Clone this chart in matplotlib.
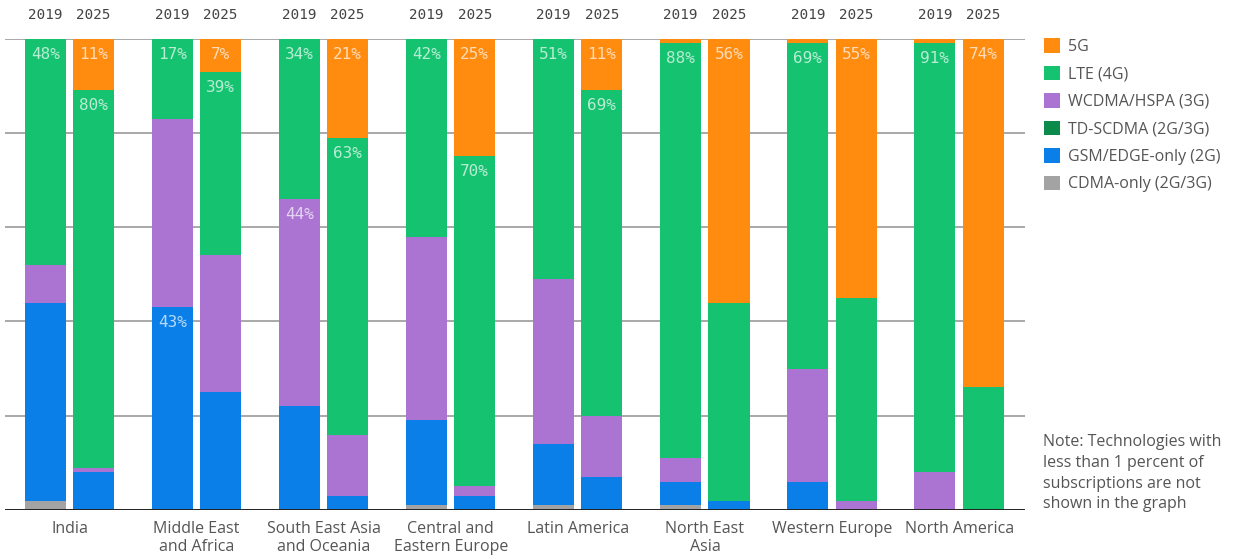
import matplotlib
matplotlib.use("Agg")
from matplotlib import pyplot as plt
from matplotlib.patches import Patch
import numpy as np

"""
Mobile subscriptions by region and technology, 2019 vs 2025
"""

regions = ["India", "Middle East\nand Africa", "South East Asia\nand Oceania",
           "Central and\nEastern Europe", "Latin America", "North East\nAsia",
           "Western Europe", "North America"]
years = ["2019", "2025"]
techs = ["5G", "LTE (4G)", "WCDMA/HSPA (3G)", "TD-SCDMA (2G/3G)",
         "GSM/EDGE-only (2G)", "CDMA-only (2G/3G)"]

# shares in percent, stacked from the bottom
cdma_2019 = [2, 0, 0, 1, 1, 1, 0, 0]
gsm_2019 = [42, 43, 22, 18, 13, 5, 6, 0]
td_2019 = [0, 0, 0, 0, 0, 0, 0, 0]
wcdma_2019 = [8, 40, 44, 39, 35, 5, 24, 8]
lte_2019 = [48, 17, 34, 42, 51, 88, 69, 91]
g5_2019 = [0, 0, 0, 0, 0, 1, 1, 1]

cdma_2025 = [0, 0, 0, 0, 0, 0, 0, 0]
gsm_2025 = [8, 25, 3, 3, 7, 2, 0, 0]
td_2025 = [0, 0, 0, 0, 0, 0, 0, 0]
wcdma_2025 = [1, 29, 13, 2, 13, 0, 2, 0]
lte_2025 = [80, 39, 63, 70, 69, 42, 43, 26]
g5_2025 = [11, 7, 21, 25, 11, 56, 55, 74]

# which segments get a percentage label: (year, tech, region indices)
labelled = [
    ("2019", "LTE (4G)", [0, 1, 2, 3, 4, 5, 6, 7]),
    ("2019", "GSM/EDGE-only (2G)", [1]),
    ("2019", "WCDMA/HSPA (3G)", [2]),
    ("2025", "5G", [0, 1, 2, 3, 4, 5, 6, 7]),
    ("2025", "LTE (4G)", [0, 1, 2, 3, 4]),
]

colors = {
    "5G": "#ff8b0f",
    "LTE (4G)": "#14c270",
    "WCDMA/HSPA (3G)": "#ab74d2",
    "TD-SCDMA (2G/3G)": "#0b8a4c",
    "GSM/EDGE-only (2G)": "#0b7fe8",
    "CDMA-only (2G/3G)": "#a3a3a3",
}

stack_order = ["CDMA-only (2G/3G)", "GSM/EDGE-only (2G)", "TD-SCDMA (2G/3G)",
               "WCDMA/HSPA (3G)", "LTE (4G)", "5G"]
data = {
    "2019": {"CDMA-only (2G/3G)": cdma_2019, "GSM/EDGE-only (2G)": gsm_2019,
             "TD-SCDMA (2G/3G)": td_2019, "WCDMA/HSPA (3G)": wcdma_2019,
             "LTE (4G)": lte_2019, "5G": g5_2019},
    "2025": {"CDMA-only (2G/3G)": cdma_2025, "GSM/EDGE-only (2G)": gsm_2025,
             "TD-SCDMA (2G/3G)": td_2025, "WCDMA/HSPA (3G)": wcdma_2025,
             "LTE (4G)": lte_2025, "5G": g5_2025},
}


def plot_chart():
    fig = plt.figure(figsize=(12.33, 5.6), dpi=100)
    ax = fig.add_axes([5 / 1233, 1 - 510 / 560, 1020 / 1233, 471.5 / 560])

    x = np.arange(len(regions))
    width = 0.323
    offsets = {"2019": -0.191, "2025": 0.189}

    tops = {}
    for year in years:
        bottom = np.zeros(len(regions))
        for tech in stack_order:
            vals = np.array(data[year][tech], dtype=float)
            ax.bar(x + offsets[year], vals, width, bottom=bottom,
                   color=colors[tech], linewidth=0, zorder=2)
            tops[(year, tech)] = bottom + vals
            bottom = bottom + vals

    for year, tech, idx in labelled:
        for i in idx:
            ax.text(x[i] + offsets[year], tops[(year, tech)][i] - 3.3,
                    "%d%%" % data[year][tech][i], ha="center", va="center",
                    fontsize=11.5, family="DejaVu Sans Mono",
                    color="white", alpha=0.7, zorder=3)

    # year labels above every bar
    for year in years:
        for xi in x:
            ax.text(xi + offsets[year], 1.05, year, ha="center", va="center",
                    fontsize=10.3, family="DejaVu Sans Mono", color="#444444",
                    transform=ax.get_xaxis_transform())

    ax.set_xlim(-0.507, 7.518)
    ax.set_ylim(0, 100)
    for yv in [20, 40, 60, 80, 100]:
        ax.axhline(yv, color="#a8a8a8", linewidth=1.4, zorder=1)
    ax.axhline(0, color="#222222", linewidth=1.4, zorder=4)

    for side in ["top", "right", "left", "bottom"]:
        ax.spines[side].set_visible(False)
    ax.set_yticks([])
    ax.set_xticks(x)
    ax.set_xticklabels(regions, fontsize=11.5, family="Open Sans",
                       color="#555555", linespacing=1.15)
    ax.tick_params(axis="x", length=0, pad=8)

    handles = [Patch(facecolor=colors[t], edgecolor="none") for t in techs]
    fig.legend(handles, techs, loc="upper left",
               bbox_to_anchor=(1030 / 1233, 1 - 24 / 560), frameon=False,
               prop={"family": "Open Sans", "size": 11.5},
               handlelength=1.0, handleheight=1.0, handletextpad=0.45,
               labelspacing=0.68, labelcolor="#555555")

    fig.text(1043 / 1233, 1 - 434 / 560,
             "Note: Technologies with\nless than 1 percent of\n"
             "subscriptions are not\nshown in the graph",
             ha="left", va="top", fontsize=11.5, family="Open Sans",
             color="#555555", linespacing=1.4)

    plt.savefig("out.png", dpi=100)


if __name__ == '__main__':
    plot_chart()
